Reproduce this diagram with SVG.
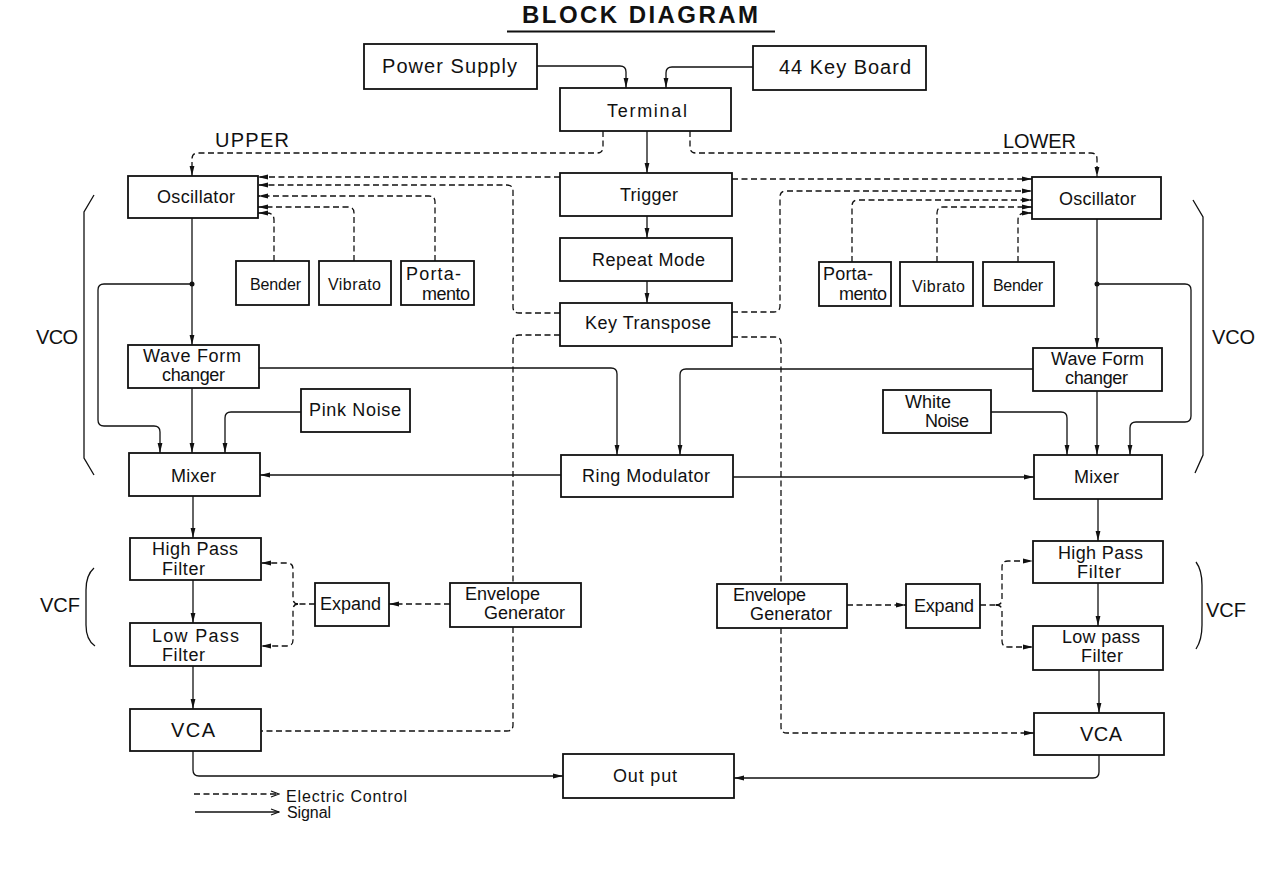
<svg xmlns="http://www.w3.org/2000/svg" width="1272" height="887" viewBox="0 0 1272 887">
<defs>
<marker id="ah" viewBox="0 0 10 6" refX="10" refY="3" markerWidth="10" markerHeight="6" markerUnits="userSpaceOnUse" orient="auto">
<path d="M0,0.6 L10,3 L0,5.4 z" fill="#111"/>
</marker>
<marker id="open" viewBox="0 0 10 8" refX="9" refY="4" markerWidth="10" markerHeight="8" markerUnits="userSpaceOnUse" orient="auto">
<path d="M1,1 L9,4 L1,7" fill="none" stroke="#111" stroke-width="1.2"/>
</marker>
<style>
.box{fill:#fff;stroke:#111;stroke-width:1.8}
.s{fill:none;stroke:#111;stroke-width:1.3}
.d{fill:none;stroke:#111;stroke-width:1.3;stroke-dasharray:6 3.5}
.a{marker-end:url(#ah)}
.br{fill:none;stroke:#111;stroke-width:1.3}
text{font-family:"Liberation Sans",Arial,sans-serif;fill:#111;font-size:18px}
.sm{font-size:16px}
.lg{font-size:20px}
.t{font-size:24px;font-weight:bold}
</style>
</defs>
<rect width="1272" height="887" fill="#fff"/>

<g id="title">
<text class="t" x="522" y="23" textLength="236" lengthAdjust="spacing">BLOCK DIAGRAM</text>
<path d="M507,31.5 H775" stroke="#111" stroke-width="2"/>
</g>

<g id="labels">
<text class="lg" x="215" y="147" textLength="74" lengthAdjust="spacing">UPPER</text>
<text class="lg" x="1003" y="148" textLength="73" lengthAdjust="spacing">LOWER</text>
<text class="lg" x="36" y="344" textLength="42" lengthAdjust="spacing">VCO</text>
<text class="lg" x="1212" y="344" textLength="43" lengthAdjust="spacing">VCO</text>
<text class="lg" x="40" y="612" textLength="40" lengthAdjust="spacing">VCF</text>
<text class="lg" x="1206" y="617" textLength="40" lengthAdjust="spacing">VCF</text>
<path class="br" d="M94,195 L84,212 V458 L94,475"/>
<path class="br" d="M1193,200 L1203,217 V455 L1195,473"/>
<path class="br" d="M94,568 Q86,575 86,590 V625 Q86,640 95,646"/>
<path class="br" d="M1196,562 Q1202,570 1202,585 V625 Q1202,640 1196,649"/>
</g>

<g id="legend">
<path class="d" d="M194,794 H279" marker-end="url(#open)"/>
<path class="s" d="M195,812 H279" marker-end="url(#open)"/>
<text class="sm" x="286" y="802" textLength="121" lengthAdjust="spacing">Electric Control</text>
<text class="sm" x="287" y="818" textLength="44" lengthAdjust="spacing">Signal</text>
</g>

<g id="connectors">
<!-- signal -->
<path class="s a" d="M537,66 H620 Q626,66 626,72 V88"/>
<path class="s a" d="M753,67 H672 Q666,67 666,73 V88"/>
<path class="s a" d="M647,131 V173"/>
<path class="s a" d="M647,216 V238"/>
<path class="s a" d="M647,281 V303"/>
<path class="s a" d="M192,218 V345"/>
<path class="s a" d="M192,388 V453"/>
<path class="s a" d="M192,284 H104 Q98,284 98,290 V420 Q98,426 104,426 H154 Q160,426 160,432 V453"/>
<circle cx="192" cy="284" r="2.5" fill="#111"/>
<path class="s a" d="M301,412 H231 Q225,412 225,418 V453"/>
<path class="s a" d="M259,368 H611 Q617,368 617,374 V455"/>
<path class="s a" d="M1033,369 H686 Q680,369 680,375 V455"/>
<path class="s a" d="M561,475 H260"/>
<path class="s a" d="M733,477 H1034"/>
<path class="s a" d="M1097,219 V348"/>
<path class="s a" d="M1097,391 V455"/>
<path class="s a" d="M1097,284 H1185 Q1191,284 1191,290 V416 Q1191,422 1185,422 H1136 Q1130,422 1130,428 V455"/>
<circle cx="1097" cy="284" r="2.5" fill="#111"/>
<path class="s a" d="M991,412 H1061 Q1067,412 1067,418 V455"/>
<path class="s a" d="M193,496 V538"/>
<path class="s a" d="M193,580 V623"/>
<path class="s a" d="M193,666 V709"/>
<path class="s a" d="M193,751 V770 Q193,776 199,776 H563"/>
<path class="s a" d="M1098,499 V541"/>
<path class="s a" d="M1098,583 V626"/>
<path class="s a" d="M1099,670 V713"/>
<path class="s a" d="M1099,755 V772 Q1099,778 1093,778 H734"/>
<!-- control -->
<path class="d a" d="M603,131 V147 Q603,153 597,153 H198 Q192,153 192,159 V176"/>
<path class="d a" d="M690,131 V147 Q690,153 696,153 H1091 Q1097,153 1097,159 V177"/>
<path class="d a" d="M560,177 H258"/>
<path class="d a" d="M732,179 H1032"/>
<path class="d a" d="M560,313 H519 Q513,313 513,307 V191 Q513,185 507,185 H258"/>
<path class="d a" d="M435,261 V202 Q435,196 429,196 H258"/>
<path class="d a" d="M354,261 V213 Q354,207 348,207 H258"/>
<path class="d a" d="M274,261 V220 Q274,213 267,213 H258"/>
<path class="d a" d="M732,312 H774 Q780,312 780,306 V197 Q780,191 786,191 H1032"/>
<path class="d a" d="M852,262 V206 Q852,200 858,200 H1032"/>
<path class="d a" d="M937,262 V213 Q937,207 943,207 H1032"/>
<path class="d a" d="M1018,262 V220 Q1018,213 1025,213 H1032"/>
<path class="d" d="M560,335 H519 Q513,335 513,341 V583"/>
<path class="d" d="M513,627 V725 Q513,731 507,731 H261"/>
<path class="d a" d="M450,604 H389"/>
<path class="d" d="M315,604 H298"/>
<path class="d a" d="M298,604 Q293,604 293,598 V569 Q293,563 287,563 H261"/>
<path class="d a" d="M298,604 Q293,604 293,610 V640 Q293,646 287,646 H261"/>
<path class="d" d="M732,337 H775 Q781,337 781,343 V584"/>
<path class="d a" d="M781,628 V727 Q781,733 787,733 H1034"/>
<path class="d a" d="M847,605 H906"/>
<path class="d" d="M980,605 H996"/>
<path class="d a" d="M996,605 Q1002,605 1002,599 V567 Q1002,561 1008,561 H1033"/>
<path class="d a" d="M996,605 Q1002,605 1002,611 V641 Q1002,647 1008,647 H1033"/>
</g>

<g id="power-supply"><rect class="box" x="364" y="44" width="173" height="45"/><text class="lg" x="382" y="73" textLength="135" lengthAdjust="spacing">Power Supply</text></g>
<g id="key-board"><rect class="box" x="753" y="46" width="173" height="44"/><text class="lg" x="779" y="74" textLength="132" lengthAdjust="spacing">44 Key Board</text></g>
<g id="terminal"><rect class="box" x="560" y="88" width="171" height="43"/><text x="607" y="117" textLength="80" lengthAdjust="spacing">Terminal</text></g>
<g id="trigger"><rect class="box" x="560" y="173" width="172" height="43"/><text x="620" y="201" textLength="58" lengthAdjust="spacing">Trigger</text></g>
<g id="repeat-mode"><rect class="box" x="560" y="238" width="172" height="43"/><text x="592" y="266" textLength="113" lengthAdjust="spacing">Repeat Mode</text></g>
<g id="key-transpose"><rect class="box" x="560" y="303" width="172" height="43"/><text x="585" y="329" textLength="126" lengthAdjust="spacing">Key Transpose</text></g>
<g id="ring-modulator"><rect class="box" x="561" y="455" width="172" height="42"/><text x="582" y="482" textLength="128" lengthAdjust="spacing">Ring Modulator</text></g>
<g id="output"><rect class="box" x="563" y="754" width="171" height="44"/><text x="613" y="782" textLength="64" lengthAdjust="spacing">Out put</text></g>

<g id="osc-upper"><rect class="box" x="128" y="176" width="130" height="42"/><text x="157" y="203" textLength="78" lengthAdjust="spacing">Oscillator</text></g>
<g id="bender-upper"><rect class="box" x="236" y="261" width="73" height="44"/><text class="sm" x="250" y="290" textLength="51" lengthAdjust="spacing">Bender</text></g>
<g id="vibrato-upper"><rect class="box" x="319" y="261" width="72" height="44"/><text class="sm" x="328" y="290" textLength="53" lengthAdjust="spacing">Vibrato</text></g>
<g id="portamento-upper"><rect class="box" x="401" y="261" width="73" height="44"/><text x="406" y="280" textLength="55" lengthAdjust="spacing">Porta-</text><text x="422" y="300" textLength="48" lengthAdjust="spacing">mento</text></g>
<g id="waveform-upper"><rect class="box" x="128" y="345" width="131" height="43"/><text x="143" y="362" textLength="98" lengthAdjust="spacing">Wave Form</text><text x="162" y="381" textLength="63" lengthAdjust="spacing">changer</text></g>
<g id="pink-noise"><rect class="box" x="301" y="389" width="109" height="43"/><text x="309" y="416" textLength="92" lengthAdjust="spacing">Pink Noise</text></g>
<g id="mixer-upper"><rect class="box" x="129" y="453" width="131" height="43"/><text x="171" y="482" textLength="45" lengthAdjust="spacing">Mixer</text></g>
<g id="hpf-upper"><rect class="box" x="130" y="538" width="131" height="42"/><text x="152" y="555" textLength="86" lengthAdjust="spacing">High Pass</text><text x="162" y="575" textLength="43" lengthAdjust="spacing">Filter</text></g>
<g id="lpf-upper"><rect class="box" x="130" y="623" width="131" height="43"/><text x="152" y="642" textLength="87" lengthAdjust="spacing">Low Pass</text><text x="162" y="661" textLength="43" lengthAdjust="spacing">Filter</text></g>
<g id="vca-upper"><rect class="box" x="130" y="709" width="131" height="42"/><text class="lg" x="171" y="737" textLength="44" lengthAdjust="spacing">VCA</text></g>
<g id="expand-upper"><rect class="box" x="315" y="583" width="74" height="43"/><text x="320" y="610" textLength="61" lengthAdjust="spacing">Expand</text></g>
<g id="envelope-upper"><rect class="box" x="450" y="583" width="131" height="44"/><text x="465" y="600" textLength="75" lengthAdjust="spacing">Envelope</text><text x="484" y="619" textLength="81" lengthAdjust="spacing">Generator</text></g>

<g id="osc-lower"><rect class="box" x="1032" y="177" width="129" height="42"/><text x="1059" y="205" textLength="77" lengthAdjust="spacing">Oscillator</text></g>
<g id="portamento-lower"><rect class="box" x="819" y="262" width="72" height="44"/><text x="823" y="280" textLength="50" lengthAdjust="spacing">Porta-</text><text x="839" y="300" textLength="48" lengthAdjust="spacing">mento</text></g>
<g id="vibrato-lower"><rect class="box" x="900" y="262" width="73" height="44"/><text class="sm" x="912" y="292" textLength="53" lengthAdjust="spacing">Vibrato</text></g>
<g id="bender-lower"><rect class="box" x="983" y="262" width="71" height="44"/><text class="sm" x="993" y="291" textLength="50" lengthAdjust="spacing">Bender</text></g>
<g id="waveform-lower"><rect class="box" x="1033" y="348" width="129" height="43"/><text x="1051" y="365" textLength="93" lengthAdjust="spacing">Wave Form</text><text x="1065" y="384" textLength="63" lengthAdjust="spacing">changer</text></g>
<g id="white-noise"><rect class="box" x="883" y="390" width="108" height="43"/><text x="905" y="408" textLength="46" lengthAdjust="spacing">White</text><text x="925" y="427" textLength="44" lengthAdjust="spacing">Noise</text></g>
<g id="mixer-lower"><rect class="box" x="1034" y="455" width="128" height="44"/><text x="1074" y="483" textLength="45" lengthAdjust="spacing">Mixer</text></g>
<g id="hpf-lower"><rect class="box" x="1033" y="541" width="130" height="42"/><text x="1058" y="559" textLength="85" lengthAdjust="spacing">High Pass</text><text x="1077" y="578" textLength="44" lengthAdjust="spacing">Filter</text></g>
<g id="lpf-lower"><rect class="box" x="1033" y="626" width="130" height="44"/><text x="1062" y="643" textLength="78" lengthAdjust="spacing">Low pass</text><text x="1081" y="662" textLength="42" lengthAdjust="spacing">Filter</text></g>
<g id="vca-lower"><rect class="box" x="1034" y="713" width="130" height="42"/><text class="lg" x="1080" y="741" textLength="42" lengthAdjust="spacing">VCA</text></g>
<g id="envelope-lower"><rect class="box" x="717" y="584" width="130" height="44"/><text x="733" y="601" textLength="73" lengthAdjust="spacing">Envelope</text><text x="750" y="620" textLength="82" lengthAdjust="spacing">Generator</text></g>
<g id="expand-lower"><rect class="box" x="906" y="584" width="74" height="44"/><text x="914" y="612" textLength="60" lengthAdjust="spacing">Expand</text></g>
</svg>
